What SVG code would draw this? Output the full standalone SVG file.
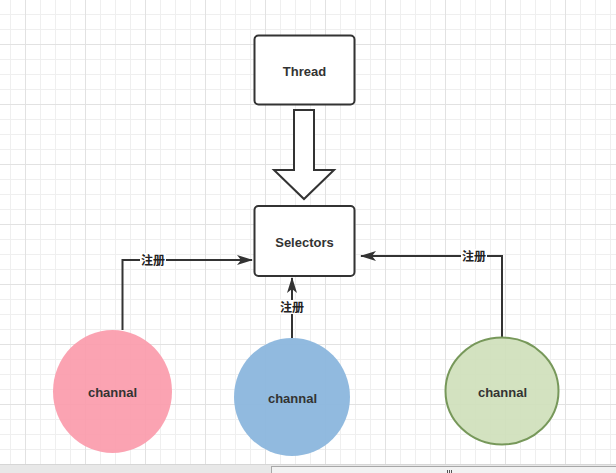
<svg xmlns="http://www.w3.org/2000/svg" width="616" height="473" viewBox="0 0 616 473">
<style>
.box{fill:#fff;stroke:#333;stroke-width:2}
.lbl{font-family:"Liberation Sans",Arial,sans-serif;font-weight:bold;font-size:13px;fill:#333;text-anchor:middle}
.edge{fill:none;stroke:#333;stroke-width:2}
.elbl{font-family:"Noto Sans CJK SC","Liberation Sans",sans-serif;font-size:12px;font-weight:bold;fill:#222;text-anchor:middle}
</style>
<defs>
<pattern id="gmin" patternUnits="userSpaceOnUse" x="10" y="14" width="15" height="15">
<path d="M0 0.5H15M0.5 0V15" stroke="#efefef" stroke-width="1" fill="none"/>
</pattern>
<pattern id="gmaj" patternUnits="userSpaceOnUse" x="25" y="44" width="60" height="60">
<path d="M0 0.5H60M0.5 0V60" stroke="#e2e2e2" stroke-width="1" fill="none"/>
</pattern>
<marker id="arr" markerUnits="userSpaceOnUse" viewBox="0 0 16 10" refX="15" refY="5" markerWidth="16" markerHeight="10" orient="auto">
<path d="M0,0 L16,5 L0,10 L4,5 Z" fill="#333"/>
</marker>
</defs>
<rect x="0" y="0" width="616" height="464" fill="#fff"/>
<rect x="0" y="0" width="616" height="464" fill="url(#gmin)"/>
<rect x="0" y="0" width="616" height="464" fill="url(#gmaj)"/>

<g id="edges">
<path class="edge" d="M122.5,330 V260 H252" marker-end="url(#arr)"/>
<path class="edge" d="M292,338 V278" marker-end="url(#arr)"/>
<path class="edge" d="M502,338 V256 H361" marker-end="url(#arr)"/>
<rect x="140" y="253" width="26" height="14" fill="#fff"/>
<text class="elbl" x="153" y="265">注册</text>
<rect x="279" y="300" width="26" height="14" fill="#fff"/>
<text class="elbl" x="292" y="312">注册</text>
<rect x="461" y="249" width="26" height="14" fill="#fff"/>
<text class="elbl" x="474" y="261">注册</text>
</g>

<g id="thread">
<rect class="box" x="254.5" y="35.5" width="100" height="69" rx="4"/>
<text class="lbl" x="304.5" y="76">Thread</text>
</g>

<g id="bigarrow">
<polygon points="294,110 314,110 314,170 334,170 304,199 274,170 294,170" fill="#fff" stroke="#333" stroke-width="2" stroke-linejoin="miter"/>
</g>

<g id="selectors">
<rect class="box" x="254.5" y="206" width="100" height="70" rx="4"/>
<text class="lbl" x="304.5" y="247">Selectors</text>
</g>

<g id="channal1">
<ellipse cx="112.5" cy="391.5" rx="59.5" ry="61.5" fill="#fb9bab" fill-opacity="0.92"/>
<text class="lbl" x="112.5" y="397">channal</text>
</g>

<g id="channal2">
<ellipse cx="292" cy="397" rx="58" ry="59" fill="#8bb6dd" fill-opacity="0.95"/>
<text class="lbl" x="292.5" y="403">channal</text>
</g>

<g id="channal3">
<ellipse cx="502" cy="391" rx="56.5" ry="53.5" fill="#cfdfbb" fill-opacity="0.92" stroke="#77985a" stroke-width="2"/>
<text class="lbl" x="502.5" y="397">channal</text>
</g>

<g id="scrollbar">
<rect x="0" y="464" width="616" height="9" fill="#e8e8e8"/>
<line x1="0" y1="464.5" x2="616" y2="464.5" stroke="#d6d6d6"/>
<rect x="271.5" y="466.5" width="350" height="10" fill="#f2f2f2" stroke="#a8a8a8"/>
<path d="M447.5,470V473M449.5,470V473M451.5,470V473" stroke="#555" stroke-width="1"/>
</g>
</svg>
